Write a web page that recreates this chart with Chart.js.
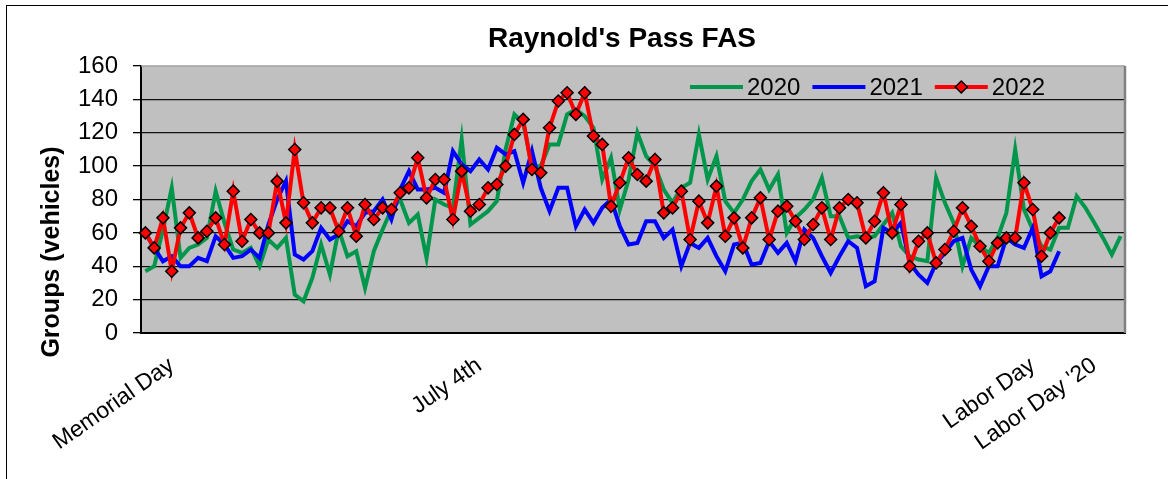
<!DOCTYPE html>
<html>
<head>
<meta charset="utf-8">
<script src="https://cdn.jsdelivr.net/npm/chart.js@4.4.1/dist/chart.umd.min.js"></script>
<style>
  html, body { margin: 0; padding: 0; background: #fff; overflow: hidden; }
  #frame { position: absolute; left: 6px; top: 5px; width: 1300px; height: 600px;
           border-left: 1.5px solid #000; border-top: 1.5px solid #000; }
  #graficPas { position: absolute; left: 0; top: 0; }
</style>
</head>
<body>
<div id="frame"></div>
<canvas id="graficPas" width="1168" height="479"></canvas>
<script>
/* Raynold's Pass FAS - groups of vehicles per day, Memorial Day to Labor Day */

const N_DIES = 112; // days on the category axis
const FESTIUS_POS = [3, 38, 101, 108];
const FESTIUS_TXT = ['Memorial Day', 'July 4th', 'Labor Day', "Labor Day '20"];
const Y_TICKS = [0, 20, 40, 60, 80, 100, 120, 140, 160];

const dades2020 = [37, 40, 62, 87, 45, 51, 53, 57, 85, 66, 50, 48, 51, 40, 56, 51, 57, 23, 19, 33,
  53, 35, 62, 46, 49, 27, 49, 62, 74, 80, 66, 71, 45, 80, 77, 75, 116, 65, 69, 73,
  79, 110, 131, 126, 100, 100, 113, 113, 131, 134, 130, 123, 92, 105, 74, 92, 120, 106, 100, 86,
  78, 87, 90, 119, 92, 106, 79, 72, 80, 91, 98, 86, 95, 60, 69, 74, 80, 93, 70, 70,
  57, 58, 57, 58, 65, 72, 52, 46, 44, 43, 93, 78, 66, 40, 57, 52, 48, 57, 72, 110,
  74, 62, 52, 50, 63, 63, 82, 75, 66, 57, 47, 58];

const dades2021 = [60, 51, 43, 46, 40, 40, 45, 43, 58, 53, 45, 46, 50, 45, 65, 80, 91, 47, 44, 49,
  63, 56, 59, 67, 64, 72, 73, 80, 68, 86, 97, 86, 86, 87, 84, 109, 101, 97, 104, 98,
  111, 107, 109, 90, 109, 87, 73, 87, 87, 64, 74, 66, 75, 80, 64, 53, 54, 67, 67, 57,
  62, 40, 54, 51, 57, 46, 37, 53, 54, 41, 42, 55, 48, 54, 43, 62, 57, 46, 36, 46,
  55, 51, 28, 31, 63, 60, 66, 42, 35, 30, 42, 48, 55, 57, 38, 28, 40, 40, 57, 53,
  51, 63, 34, 37, 49];

const dades2022 = [60, 51, 69, 37, 63, 72, 57, 61, 69, 53, 85, 55, 68, 60, 60, 91, 66, 110, 78, 66,
  75, 75, 61, 75, 58, 77, 68, 75, 74, 84, 87, 105, 81, 92, 92, 68, 97, 73, 77, 87,
  89, 100, 119, 128, 98, 96, 123, 139, 144, 131, 144, 118, 113, 76, 90, 105, 95, 91, 104, 72,
  75, 85, 56, 79, 66, 88, 58, 69, 51, 69, 81, 56, 73, 76, 67, 56, 65, 75, 56, 75,
  80, 78, 57, 67, 84, 60, 77, 40, 55, 60, 42, 50, 61, 75, 64, 52, 43, 54, 57, 57,
  90, 74, 46, 60, 69];

const VERD = '#00964B';
const BLAU = '#0000FF';
const VERMELL = '#FF0000';
const FONT = "'Liberation Sans', Arial, sans-serif";

// etiquetes de l'eix X: buides excepte els festius
function etiquetesDies() {
  const labels = [];
  for (let i = 0; i < N_DIES; i++) labels.push('');
  FESTIUS_POS.forEach((p, k) => { labels[p] = FESTIUS_TXT[k]; });
  return labels;
}

// fons gris de l'area del grafic i vora grisa superior/dreta
const fonsPlot = {
  id: 'fonsPlot',
  beforeDraw(chart) {
    const { ctx, chartArea: a } = chart;
    ctx.save();
    ctx.fillStyle = '#C0C0C0';
    ctx.fillRect(a.left, a.top, a.right - a.left, a.bottom - a.top);
    ctx.restore();
  },
  afterDatasetsDraw(chart) {
    const { ctx, chartArea: a } = chart;
    ctx.save();
    ctx.strokeStyle = '#A0A0A0';
    ctx.lineWidth = 1.5;
    ctx.beginPath();
    ctx.moveTo(a.left, a.top);
    ctx.lineTo(a.right, a.top);
    ctx.stroke();
    ctx.strokeStyle = '#808080';
    ctx.lineWidth = 2.5;
    ctx.beginPath();
    ctx.moveTo(a.right, a.top);
    ctx.lineTo(a.right, a.bottom);
    ctx.stroke();
    ctx.restore();
  }
};

// titol, titol de l'eix Y i llegenda dins de l'area
const textos = {
  id: 'textos',
  afterDraw(chart) {
    const ctx = chart.ctx;
    ctx.save();
    ctx.fillStyle = '#000';

    ctx.font = 'bold 28px ' + FONT;
    ctx.textAlign = 'center';
    ctx.textBaseline = 'alphabetic';
    ctx.fillText("Raynold's Pass FAS", 622, 47);

    ctx.save();
    ctx.translate(52, 252);
    ctx.rotate(-Math.PI / 2);
    ctx.font = 'bold 25px ' + FONT;
    ctx.textBaseline = 'middle';
    ctx.fillText('Groups (vehicles)', 0, 0);
    ctx.restore();

    // llegenda
    ctx.font = '24px ' + FONT;
    ctx.textAlign = 'left';
    ctx.textBaseline = 'middle';
    let x = 690;
    const y = 87;
    const ordre = [2, 1, 0];
    ordre.forEach(idx => {
      const ds = chart.data.datasets.find(d => d.ordreLlegenda === idx);
      ctx.strokeStyle = ds.borderColor;
      ctx.lineWidth = 4;
      ctx.beginPath();
      ctx.moveTo(x, y);
      ctx.lineTo(x + 53, y);
      ctx.stroke();
      if (ds.pointRadius > 0) {
        const cx = x + 26.5, r = 6;
        ctx.fillStyle = VERMELL;
        ctx.strokeStyle = '#000';
        ctx.lineWidth = 1.5;
        ctx.beginPath();
        ctx.moveTo(cx, y - r); ctx.lineTo(cx + r, y); ctx.lineTo(cx, y + r); ctx.lineTo(cx - r, y);
        ctx.closePath();
        ctx.fill();
        ctx.stroke();
      }
      ctx.fillStyle = '#000';
      ctx.fillText(ds.label, x + 57, y + 1);
      x += 57 + ctx.measureText(ds.label).width + 12;
    });
    ctx.restore();
  }
};

function dibuixarGrafic() {
  const ctx = document.getElementById('graficPas').getContext('2d');
  Chart.defaults.font.family = FONT;
  Chart.defaults.color = '#000';

  new Chart(ctx, {
    type: 'line',
    data: {
      labels: etiquetesDies(),
      datasets: [
        { label: '2020', data: dades2020, borderColor: VERD, borderWidth: 4, pointRadius: 0,
          order: 2, ordreLlegenda: 2, tension: 0 },
        { label: '2021', data: dades2021, borderColor: BLAU, borderWidth: 4, pointRadius: 0,
          order: 1, ordreLlegenda: 1, tension: 0 },
        { label: '2022', data: dades2022, borderColor: VERMELL, borderWidth: 4,
          pointStyle: 'rectRot', pointRadius: 6, pointBackgroundColor: VERMELL,
          pointBorderColor: '#000', pointBorderWidth: 1.5, order: 0, ordreLlegenda: 0, tension: 0 }
      ]
    },
    options: {
      responsive: false,
      animation: false,
      layout: { padding: { left: 0, top: 66, right: 43, bottom: 0 } },
      plugins: { legend: { display: false }, title: { display: false }, tooltip: { enabled: false } },
      scales: {
        x: {
          type: 'category',
          offset: true,
          grid: { display: false },
          border: { display: true, color: '#000', width: 2 },
          ticks: { autoSkip: false, minRotation: 35, maxRotation: 35, padding: 11,
                   font: { size: 23 }, color: '#000' },
          afterFit: s => { s.height = 146; }
        },
        y: {
          min: 0, max: 160,
          afterBuildTicks: s => { s.ticks = Y_TICKS.map(v => ({ value: v })); },
          grid: { color: c => (c.tick && c.tick.value === 160) ? 'rgba(0,0,0,0)' : '#111',
                  lineWidth: 1.3, tickLength: 8, tickColor: '#000', drawTicks: true },
          border: { display: true, color: '#000', width: 2 },
          ticks: { padding: 15, font: { size: 24 }, color: '#000' },
          afterFit: s => { s.width = 141; }
        }
      }
    },
    plugins: [fonsPlot, textos]
  });
}

window.onload = dibuixarGrafic;
</script>
</body>
</html>
